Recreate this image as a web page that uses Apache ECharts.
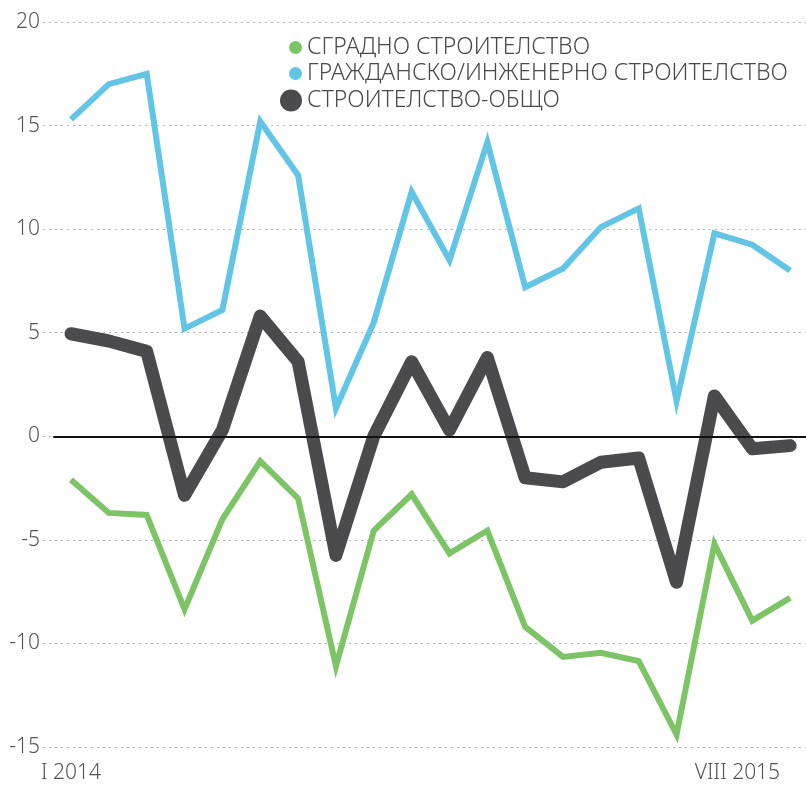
<!DOCTYPE html>
<html>
<head>
<meta charset="utf-8">
<script src="https://cdn.jsdelivr.net/npm/echarts@6/dist/echarts.min.js"></script>
<style>
  html, body { margin: 0; padding: 0; background: #fff; }
  #chart { width: 806px; height: 787px; }
</style>
</head>
<body>
<div id="chart"></div>
<script>
// months I 2014 .. VIII 2015
const months = ['I 2014', 'II 2014', 'III 2014', 'IV 2014', 'V 2014', 'VI 2014', 'VII 2014', 'VIII 2014',
  'IX 2014', 'X 2014', 'XI 2014', 'XII 2014', 'I 2015', 'II 2015', 'III 2015', 'IV 2015',
  'V 2015', 'VI 2015', 'VII 2015', 'VIII 2015'];
const shownMonths = [0, 19];

const seriesNames = ['СГРАДНО СТРОИТЕЛСТВО', 'ГРАЖДАНСКО/ИНЖЕНЕРНО СТРОИТЕЛСТВО', 'СТРОИТЕЛСТВО-ОБЩО'];
const buildings = [-2.1, -3.7, -3.8, -8.35, -4.0, -1.2, -3.0, -11.1, -4.55, -2.8,
  -5.65, -4.55, -9.2, -10.65, -10.45, -10.85, -14.4, -5.2, -8.9, -7.8];
const civil = [15.3, 17.0, 17.5, 5.2, 6.1, 15.2, 12.6, 1.35, 5.5, 11.8,
  8.5, 14.2, 7.2, 8.1, 10.1, 11.0, 1.7, 9.8, 9.25, 8.0];
const total = [4.95, 4.6, 4.1, -2.85, 0.3, 5.8, 3.6, -5.75, 0.0, 3.6,
  0.3, 3.8, -2.0, -2.2, -1.25, -1.05, -7.05, 1.95, -0.6, -0.45];

const yTicks = { min: -15, max: 20, step: 5 };

const colors = ['#7cc466', '#62c5e6', '#4b4b4e'];
const font = 'Noto Sans';

const chart = echarts.init(document.getElementById('chart'));
const toPairs = arr => arr.map((v, i) => [i, v]);

const legendBase = {
  orient: 'vertical',
  left: 284,
  textStyle: { fontFamily: font, fontSize: 23, fontWeight: 300, color: '#4a4a4a' },
  icon: 'circle',
  selectedMode: false
};

chart.setOption({
  animation: false,
  backgroundColor: '#fff',
  grid: { left: 43, right: 0, top: 22, bottom: 40 },
  legend: [
    Object.assign({}, legendBase, { data: [seriesNames[0]], top: 31, itemWidth: 13, itemHeight: 13 }),
    Object.assign({}, legendBase, { data: [seriesNames[1]], top: 57, itemWidth: 13, itemHeight: 13 }),
    Object.assign({}, legendBase, { data: [seriesNames[2]], top: 84, left: 275, itemWidth: 22, itemHeight: 22 })
  ],
  xAxis: {
    type: 'value',
    min: -0.74,
    max: 19.42,
    axisLine: { show: false },
    axisTick: { show: false },
    splitLine: { show: false },
    axisLabel: {
      customValues: shownMonths,
      formatter: v => v === shownMonths[1] ? '{last|' + months[v] + '}' : months[v],
      fontFamily: font,
      fontSize: 21,
      fontWeight: 300,
      color: '#555',
      margin: 16,
      alignMaxLabel: 'right',
      rich: { last: { fontFamily: font, fontSize: 21, fontWeight: 300, color: '#555', padding: [0, 10, 0, 0] } }
    }
  },
  yAxis: {
    type: 'value',
    min: yTicks.min,
    max: yTicks.max,
    interval: yTicks.step,
    axisLine: { show: false },
    axisTick: { show: false },
    axisLabel: { fontFamily: font, fontSize: 21, fontWeight: 300, color: '#555', margin: 3 },
    splitLine: { lineStyle: { type: [2, 4], color: '#b5b5b5', width: 1 } }
  },
  series: [
    {
      name: seriesNames[0], type: 'line', data: toPairs(buildings), symbol: 'none',
      color: colors[0], lineStyle: { width: 6, color: colors[0], join: 'miter' }
    },
    {
      name: seriesNames[1], type: 'line', data: toPairs(civil), symbol: 'none',
      color: colors[1], lineStyle: { width: 6, color: colors[1], join: 'miter' }
    },
    {
      name: seriesNames[2], type: 'line', data: toPairs(total), symbol: 'none',
      color: colors[2], lineStyle: { width: 13, color: colors[2], join: 'round', cap: 'round' }
    },
    {
      // zero line, drawn over the series
      type: 'line', data: [], z: 10, silent: true,
      markLine: {
        silent: true, symbol: 'none', label: { show: false },
        lineStyle: { type: 'solid', color: '#111', width: 2 },
        data: [[{ coord: [-0.47, 0] }, { coord: [19.42, 0] }]]
      }
    }
  ]
});
</script>
</body>
</html>
